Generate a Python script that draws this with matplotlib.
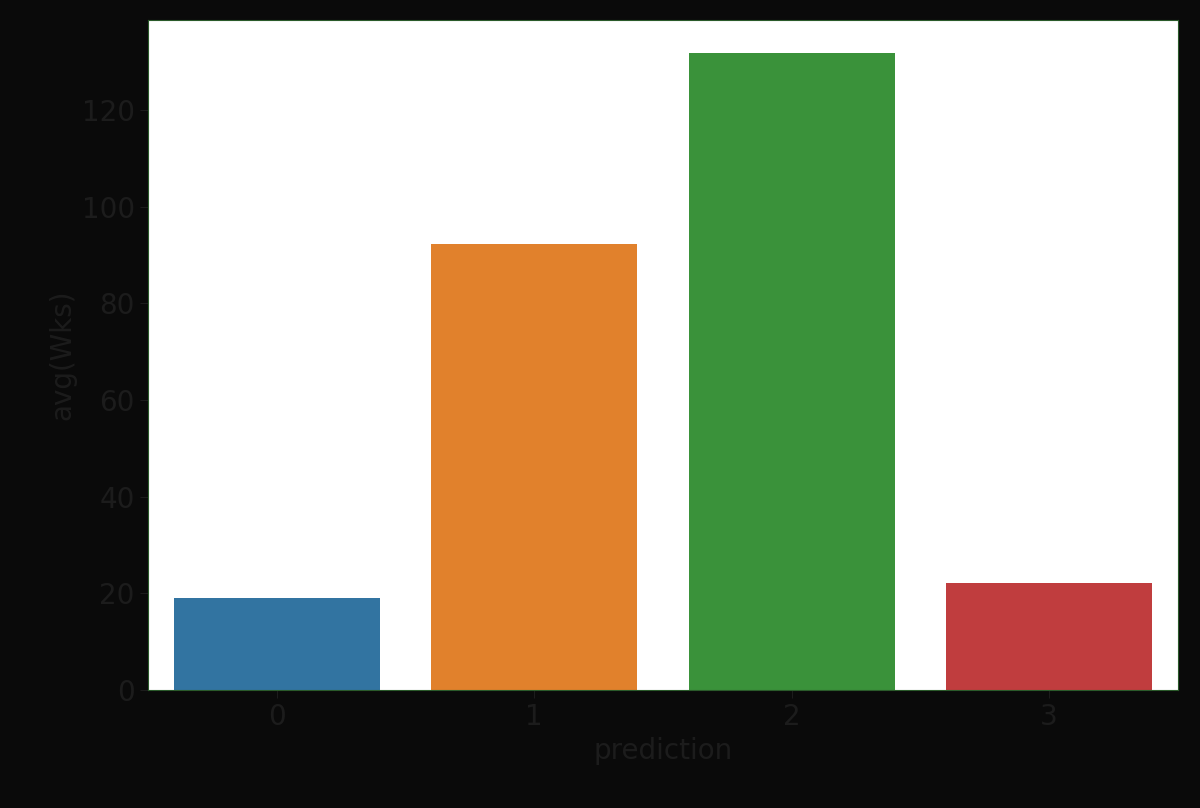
import matplotlib
matplotlib.use("Agg")
import matplotlib.pyplot as plt

# bar chart of avg(Wks) by prediction cluster
categories = ["0", "1", "2", "3"]
values = [19.0, 92.3, 131.8, 22.1]
colors = ["#3274a1", "#e1812c", "#3a923a", "#c03d3e"]

fig = plt.figure(figsize=(12, 8.08), dpi=100)
fig.patch.set_facecolor("#0a0a0a")
ax = fig.add_axes([148 / 1200, 1 - 690 / 808, 1030 / 1200, 670 / 808])
ax.set_facecolor("white")

ax.bar(range(len(categories)), values, width=0.8, color=colors)
ax.set_xlim(-0.5, 3.5)
ax.set_ylim(0, 138.6)
ax.set_xticks(range(len(categories)))
ax.set_xticklabels(categories)
ax.set_yticks(range(0, 121, 20))

txt = "#1c1c1c"
ax.tick_params(labelsize=20, colors=txt, length=6)
ax.set_xlabel("prediction", fontsize=20, color=txt)
ax.set_ylabel("avg(Wks)", fontsize=20, color=txt)
for s in ax.spines.values():
    s.set_color("#2a5a2a")

fig.savefig("out.png", dpi=100, facecolor=fig.get_facecolor())
